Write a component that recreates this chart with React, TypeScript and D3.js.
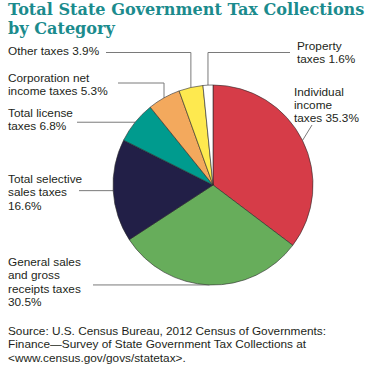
import * as d3 from 'd3';

// data
const categories = [
  'Individual income taxes',
  'General sales and gross receipts taxes',
  'Total selective sales taxes',
  'Total license taxes',
  'Corporation net income taxes',
  'Other taxes',
  'Property taxes',
];
const shares = [35.3, 30.5, 16.6, 6.8, 5.3, 3.9, 1.6];
const labelLines = [
  ['Individual', 'income', 'taxes 35.3%'],
  ['General sales', 'and gross', 'receipts taxes', '30.5%'],
  ['Total selective', 'sales taxes', '16.6%'],
  ['Total license', 'taxes 6.8%'],
  ['Corporation net', 'income taxes 5.3%'],
  ['Other taxes 3.9%'],
  ['Property', 'taxes 1.6%'],
];
const titleLines = ['Total State Government Tax Collections', 'by Category'];
const sourceLines = [
  'Source: U.S. Census Bureau, 2012 Census of Governments:',
  'Finance\u2014Survey of State Government Tax Collections at',
  '<www.census.gov/govs/statetax>.',
];

const colors = ['#d63c48', '#67ad5b', '#221f47', '#009b8e', '#f3a95d', '#fee94f', '#ffffff'];

// label layout: text position + leader style
// kind: 'h' horizontal to x, 'v' up to y then across to x, 'd' straight to point
const labelPos = [
  { x: 294, y: 95.7, kind: 'd', lx: 312, ly: 125 },
  { x: 8, y: 266, kind: 'h', lx: 93 },
  { x: 8, y: 183, kind: 'h', lx: 79 },
  { x: 8, y: 116.7, kind: 'h', lx: 77 },
  { x: 8, y: 81.7, kind: 'v', lx: 118, ly: 83 },
  { x: 8, y: 55, kind: 'v', lx: 106, ly: 52.5 },
  { x: 297, y: 50, kind: 'v', lx: 290, ly: 52.5 },
];

const W = 380;
const H = 370;
const cx = 213;
const cy = 185;
const R = 100;
const lineH = 13.3;

export default function App() {
  const pie = d3.pie<number>().sort(null).value((d) => d);
  const arcs = pie(shares);
  const arc = d3.arc<d3.PieArcDatum<number>>().innerRadius(0).outerRadius(R);

  const leaders = arcs.map((a, i) => {
    const mid = (a.startAngle + a.endAngle) / 2;
    const ex = cx + R * Math.sin(mid);
    const ey = cy - R * Math.cos(mid);
    const p = labelPos[i];
    const path = d3.path();
    path.moveTo(ex, ey);
    if (p.kind === 'h') {
      path.lineTo(p.lx, ey);
    } else if (p.kind === 'v') {
      path.lineTo(ex, p.ly!);
      path.lineTo(p.lx, p.ly!);
    } else {
      path.lineTo(p.lx, p.ly!);
    }
    return path.toString();
  });

  return (
    <div style={{ position: 'absolute', left: 0, top: 0 }}>
      <svg width={W} height={H} style={{ display: 'block', background: '#fff' }}>
        {titleLines.map((t, i) => (
          <text
            key={t}
            x={8}
            y={15.3 + i * 18.8}
            fill="#1b8b8d"
            fontFamily="'DejaVu Serif', serif"
            fontWeight="bold"
            fontSize={16.1}
          >
            {t}
          </text>
        ))}

        <g>
          {leaders.map((d, i) => (
            <path key={i} d={d} fill="none" stroke="#7a7a7a" strokeWidth={1} />
          ))}
        </g>

        <g transform={`translate(${cx},${cy})`}>
          {arcs.map((a, i) => (
            <path
              key={categories[i]}
              d={arc(a) ?? ''}
              fill={colors[i]}
              stroke="#2a2a2a"
              strokeWidth={0.6}
            />
          ))}
        </g>

        <g fontFamily="'Liberation Sans', Arial, sans-serif" fontSize={11.8} fill="#231f20">
          {labelLines.map((lines, i) =>
            lines.map((l, j) => (
              <text key={`${i}-${j}`} x={labelPos[i].x} y={labelPos[i].y + j * lineH}>
                {l}
              </text>
            ))
          )}
          {sourceLines.map((l, j) => (
            <text key={`s${j}`} x={8} y={335 + j * lineH}>
              {l}
            </text>
          ))}
        </g>
      </svg>
    </div>
  );
}
